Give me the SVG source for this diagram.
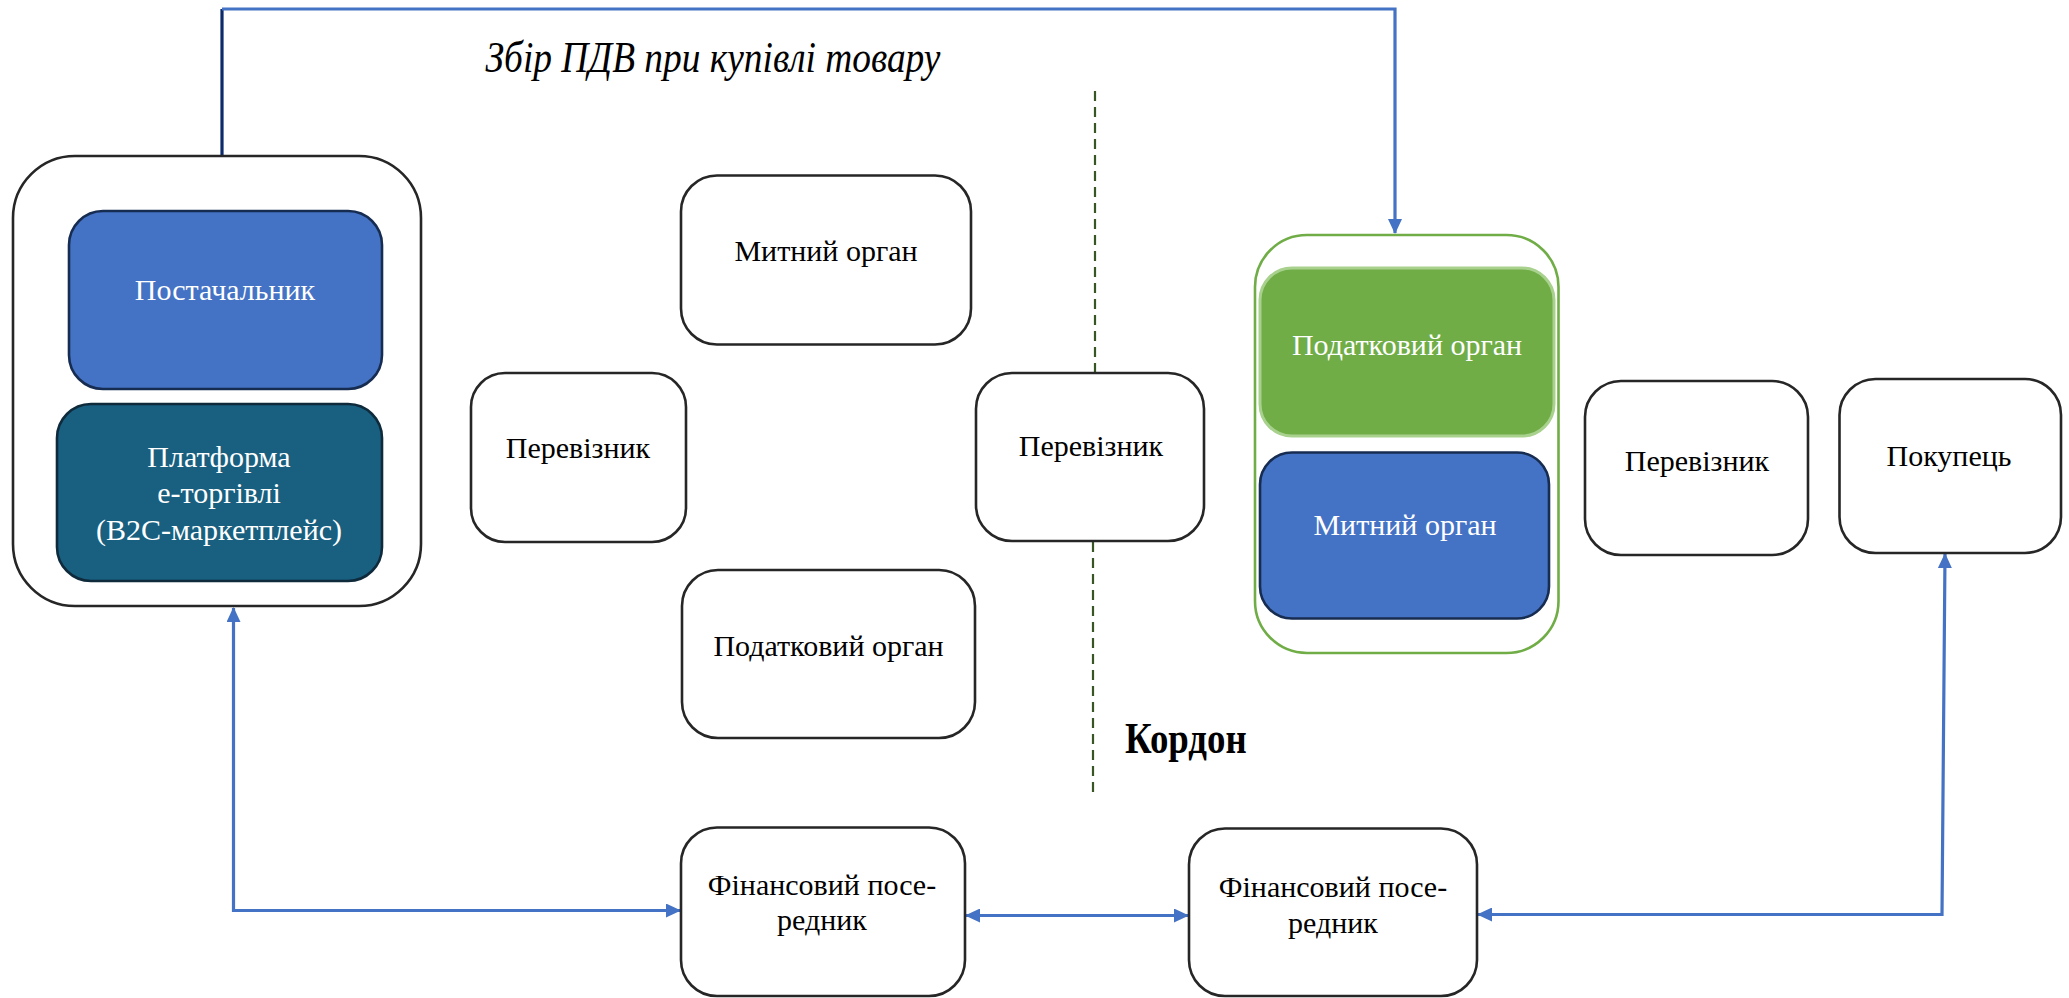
<svg xmlns="http://www.w3.org/2000/svg" width="2069" height="998" viewBox="0 0 2069 998">
<style>
text{font-family:"Liberation Serif","Times New Roman",serif;font-size:30px;text-anchor:middle;fill:#000}
.w{fill:#fff}
.st{text-anchor:start}
.box{fill:#fff;stroke:#262626;stroke-width:2.6}
.con{fill:none;stroke:#4472c4;stroke-width:3.2}
</style>
<defs>
<marker id="ah" markerUnits="userSpaceOnUse" markerWidth="16" markerHeight="14" refX="14" refY="7" orient="auto-start-reverse">
<path d="M0,0 L15,7 L0,14 z" fill="#4472c4"/>
</marker>
</defs>
<rect width="2069" height="998" fill="#fff"/>
<g id="connectors">
<path d="M222,157 V9" fill="none" stroke="#0d2a6b" stroke-width="3.2"/>
<path class="con" d="M222,9 H1395 V233" marker-end="url(#ah)"/>
<path class="con" d="M233.5,608 V910.5 H680" marker-start="url(#ah)" marker-end="url(#ah)"/>
<path class="con" d="M966,915.5 H1188" marker-start="url(#ah)" marker-end="url(#ah)"/>
<path class="con" d="M1945,554 L1942,914.5 H1478" marker-start="url(#ah)" marker-end="url(#ah)"/>
<path d="M1095,91 V373" fill="none" stroke="#375623" stroke-width="2.2" stroke-dasharray="10,6"/>
<path d="M1093,542 V796" fill="none" stroke="#375623" stroke-width="2.2" stroke-dasharray="10,6"/>
</g>
<g id="title"><text transform="translate(713,72) scale(0.85,1)" x="0" y="0" font-style="italic" style="font-size:44px">Збір ПДВ при купівлі товару</text></g>
<g id="border-label"><text class="st" transform="translate(1125,753) scale(0.82,1)" x="0" y="0" font-weight="bold" style="font-size:45px">Кордон</text></g>
<g id="seller-group">
<rect x="13" y="156" width="408" height="450" rx="62" fill="#fff" stroke="#262626" stroke-width="2.6"/>
</g>
<g id="supplier">
<rect x="69" y="211" width="313" height="178" rx="34" fill="#4472c4" stroke="#172c51" stroke-width="2.6"/>
<text class="w" x="225" y="300">Постачальник</text>
</g>
<g id="platform">
<rect x="57" y="404" width="325" height="177" rx="34" fill="#185f80" stroke="#0e2a3b" stroke-width="2.6"/>
<text class="w" x="219" y="467">Платформа</text>
<text class="w" x="219" y="503">е-торгівлі</text>
<text class="w" x="219" y="540">(B2C-маркетплейс)</text>
</g>
<g id="carrier1">
<rect class="box" x="471" y="373" width="215" height="169" rx="34"/>
<text x="578" y="458">Перевізник</text>
</g>
<g id="customs1">
<rect class="box" x="681" y="175.5" width="290" height="169" rx="36"/>
<text x="826" y="261">Митний орган</text>
</g>
<g id="tax1">
<rect class="box" x="682" y="570" width="293" height="168" rx="36"/>
<text x="828.5" y="656">Податковий орган</text>
</g>
<g id="carrier2">
<rect class="box" x="976" y="373" width="228" height="168" rx="36"/>
<text x="1091" y="456">Перевізник</text>
</g>
<g id="dest-group">
<rect x="1255" y="235" width="303.5" height="418" rx="52" fill="#fff" stroke="#70ad47" stroke-width="2.6"/>
</g>
<g id="tax2">
<rect x="1260" y="268" width="294" height="168" rx="32" fill="#70ad47" stroke="#a9d18e" stroke-width="3"/>
<text class="w" x="1407" y="355">Податковий орган</text>
</g>
<g id="customs2">
<rect x="1260" y="452.5" width="289" height="166" rx="32" fill="#4472c4" stroke="#172c51" stroke-width="2.6"/>
<text class="w" x="1405" y="535">Митний орган</text>
</g>
<g id="carrier3">
<rect class="box" x="1585" y="381" width="223" height="174" rx="36"/>
<text x="1697" y="471">Перевізник</text>
</g>
<g id="buyer">
<rect class="box" x="1839.5" y="379" width="221.5" height="174" rx="36"/>
<text x="1949" y="466">Покупець</text>
</g>
<g id="fin1">
<rect class="box" x="681" y="827.5" width="284" height="168.5" rx="36"/>
<text x="822" y="894.5">Фінансовий посе-</text>
<text x="822" y="930">редник</text>
</g>
<g id="fin2">
<rect class="box" x="1189" y="828.5" width="288" height="167.5" rx="36"/>
<text x="1333" y="897">Фінансовий посе-</text>
<text x="1333" y="933">редник</text>
</g>
</svg>
